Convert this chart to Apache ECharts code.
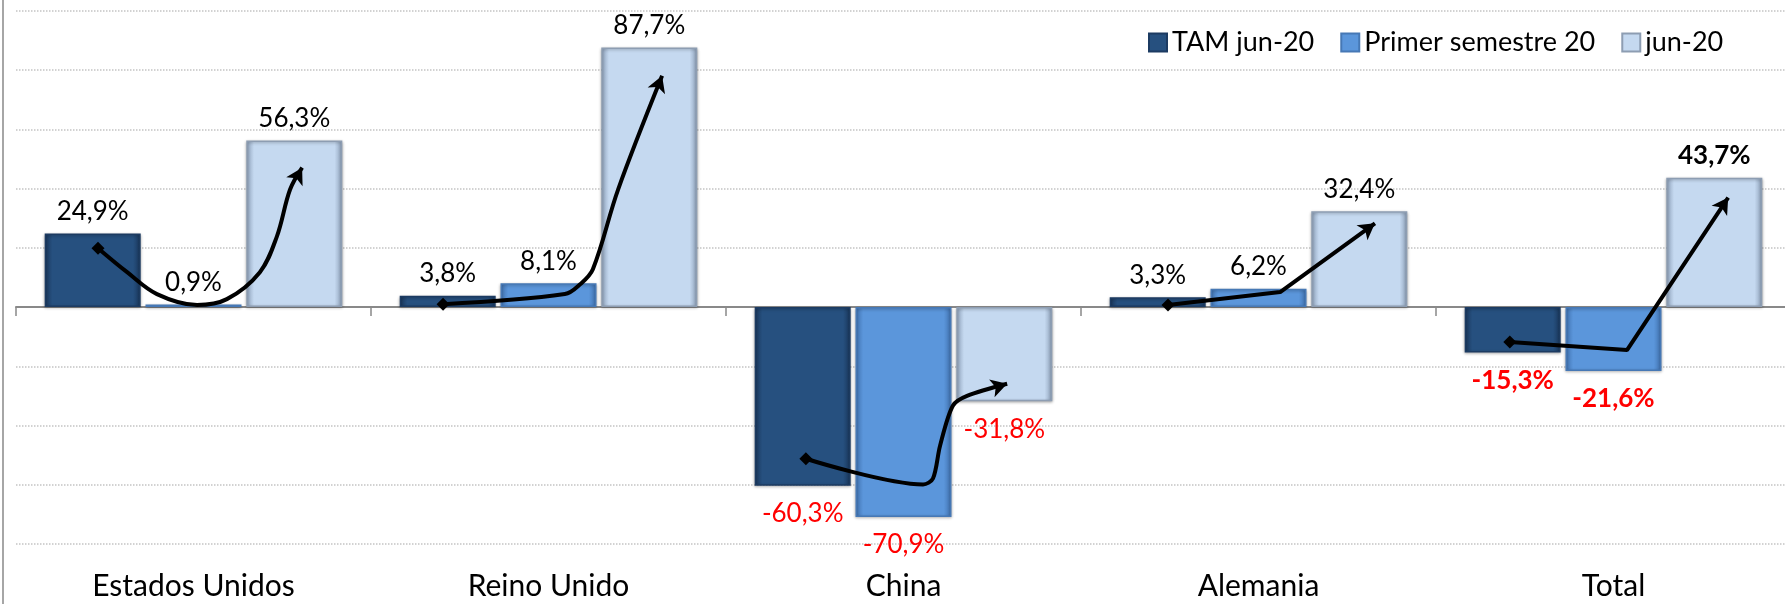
<!DOCTYPE html>
<html>
<head>
<meta charset="utf-8">
<title>Variación por país</title>
<script src="https://cdn.jsdelivr.net/npm/echarts/dist/echarts.min.js"></script>
<style>
  html, body { margin: 0; padding: 0; background: #fff; }
  #main { width: 1785px; height: 604px; }
</style>
</head>
<body>
<div id="main"></div>
<script>
var categories = ["Estados Unidos", "Reino Unido", "China", "Alemania", "Total"];
var tamJun20 = [24.9, 3.8, -60.3, 3.3, -15.3];
var primerSemestre20 = [0.9, 8.1, -70.9, 6.2, -21.6];
var jun20 = [56.3, 87.7, -31.8, 32.4, 43.7];

// trazos de flecha: [posición en categorías (0-5), valor %]
var arrowEstadosUnidos = [[0.231, 19.9], [0.313, 11.8], [0.397, 4.4], [0.51, 0.7], [0.594, 2.7], [0.687, 11.8], [0.735, 23.9], [0.772, 39.7], [0.806, 47.1]];
var arrowReinoUnido = [[1.203, 1.0], [1.546, 4.4], [1.589, 7.7], [1.625, 12.8], [1.696, 39.7], [1.82, 78.1]];
var arrowChina = [[2.225, -51.2], [2.555, -59.9], [2.583, -57.9], [2.603, -46.8], [2.639, -33.3], [2.679, -30.0], [2.792, -25.9]];
var arrowAlemania = [[3.245, 0.7], [3.561, 5.1], [3.828, 28.3]];
var arrowTotal = [[4.208, -11.8], [4.538, -14.5], [4.823, 37.0]];

var arrows = [arrowEstadosUnidos, arrowReinoUnido, arrowChina, arrowAlemania, arrowTotal];
var arrowSmooth = [0.35, 0.35, 0.3, false, false];

var myChart = echarts.init(document.getElementById("main"));
var fontName = "Lato, 'Liberation Sans', sans-serif";

function bevel(base, edge) {
  return {
    type: "linear", x: 0, y: 0, x2: 1, y2: 0,
    colorStops: [
      { offset: 0, color: edge },
      { offset: 0.08, color: base },
      { offset: 0.92, color: base },
      { offset: 1, color: edge },
    ],
  };
}

function fmt(v) {
  return v.toFixed(1).replace(".", ",") + "%";
}

function barData(values) {
  return values.map(function (v, i) {
    var neg = v < 0;
    return {
      value: v,
      label: {
        position: neg ? "bottom" : "top",
        distance: neg ? 15 : 9,
        color: neg ? "#ff0000" : "#000000",
        fontWeight: i === 4 ? "bold" : "normal",
      },
    };
  });
}

function barSeries(name, values, base, edge, border) {
  return {
    name: name,
    type: "bar",
    barWidth: 96,
    barGap: "5%",
    itemStyle: {
      color: bevel(base, edge),
      borderColor: border,
      borderWidth: 1.5,
      shadowColor: "rgba(0,0,0,0.3)",
      shadowBlur: 3,
      shadowOffsetY: 1,
    },
    label: {
      show: true,
      fontFamily: fontName,
      fontSize: 26,
      formatter: function (p) {
        return fmt(p.value);
      },
    },
    data: barData(values),
  };
}

function arrowSeries(points, smooth, rotate) {
  return {
    type: "line",
    xAxisIndex: 1,
    yAxisIndex: 0,
    smooth: smooth,
    silent: true,
    z: 5,
    clip: false,
    showAllSymbol: true,
    lineStyle: { color: "#000", width: 4 },
    itemStyle: { color: "#000" },
    data: points.map(function (p, i) {
      if (i === 0) return { value: p, symbol: "diamond", symbolSize: 13 };
      if (i === points.length - 1)
        return { value: p, symbol: "arrow", symbolSize: [14, 16], symbolRotate: rotate };
      return { value: p, symbol: "none" };
    }),
  };
}

function buildSeries(rotations) {
  var s = [
    barSeries("TAM jun-20", tamJun20, "#26507f", "#19365a", "#1c3b62"),
    barSeries("Primer semestre 20", primerSemestre20, "#5b96db", "#3f70ad", "#4678b5"),
    barSeries("jun-20", jun20, "#c5d9f0", "#8c9fb8", "#8d9db2"),
  ];
  arrows.forEach(function (pts, k) {
    s.push(arrowSeries(pts, arrowSmooth[k], rotations[k]));
  });
  return s;
}

var option = {
  backgroundColor: "#ffffff",
  animation: false,
  legend: {
    left: 1143,
    top: 24,
    itemWidth: 18,
    itemHeight: 18,
    itemGap: 26,
    icon: "rect",
    textStyle: { fontFamily: fontName, fontSize: 27, color: "#000" },
    data: ["TAM jun-20", "Primer semestre 20", "jun-20"],
  },
  grid: { left: 16, top: 11, width: 1775, height: 533, outerBoundsMode: "none", containLabel: false },
  xAxis: [
    {
      type: "category",
      data: categories,
      axisLine: { lineStyle: { color: "#898989", width: 2 } },
      axisTick: { show: true, length: 9, interval: 0, lineStyle: { color: "#898989", width: 1.5 } },
      axisLabel: { show: false },
    },
    { type: "value", min: 0, max: 5, show: false },
    {
      // nombres de país al pie del gráfico
      type: "category",
      data: categories,
      position: "bottom",
      axisLine: { show: false, onZero: false },
      axisTick: { show: false },
      axisLabel: { margin: 27, interval: 0, fontFamily: fontName, fontSize: 30, color: "#000" },
    },
  ],
  yAxis: {
    type: "value",
    min: -80,
    max: 100,
    interval: 20,
    axisLabel: { show: false },
    axisLine: { show: false },
    axisTick: { show: false },
    splitLine: { lineStyle: { type: "dotted", color: "#c4c4c4", width: 1.5 } },
  },
  graphic: [
    { type: "line", shape: { x1: 3, y1: 0, x2: 3, y2: 604 }, style: { stroke: "#a6a6a6", lineWidth: 2 } },
  ],
  series: buildSeries([0, 0, 0, 0, 0]),
};
myChart.setOption(option);

// orientar la punta de cada flecha según su último tramo
var rotations = arrows.map(function (pts) {
  var n = pts.length;
  var a = myChart.convertToPixel({ xAxisIndex: 1, yAxisIndex: 0 }, pts[n - 2]);
  var b = myChart.convertToPixel({ xAxisIndex: 1, yAxisIndex: 0 }, pts[n - 1]);
  return (Math.atan2(-(b[0] - a[0]), -(b[1] - a[1])) * 180) / Math.PI;
});
myChart.setOption({ series: buildSeries(rotations) });
</script>
</body>
</html>
